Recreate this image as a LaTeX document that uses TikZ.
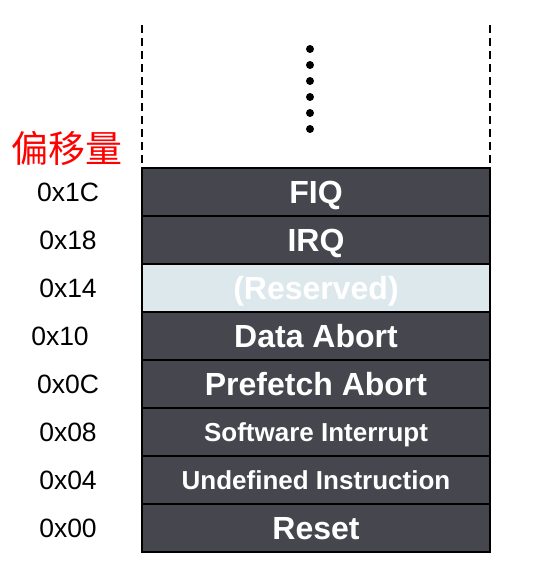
\documentclass[tikz,border=0pt]{standalone}
\usepackage{fontspec}
\setmainfont{Liberation Sans}
\newfontfamily\cjk{Noto Sans CJK SC}
\definecolor{rowdark}{HTML}{46464F}
\definecolor{rowlight}{HTML}{DDE8EC}
\begin{document}
\begin{tikzpicture}[x=1pt,y=-1pt,
  rowbox/.style={draw=black, line width=2pt, fill=rowdark, minimum width=348pt, minimum height=48pt,
    inner sep=0pt, text=white, font=\bfseries\fontsize{32}{34}\selectfont, text height=22.9pt, text depth=0pt},
  smallrow/.style={font=\bfseries\fontsize{26}{28}\selectfont, text height=18.6pt},
  offlabel/.style={inner sep=0pt, font=\fontsize{26.5}{28}\selectfont, text height=19pt, text depth=0pt},
  dashline/.style={dashed, dash pattern=on 8pt off 5pt, line width=2pt},
  dotmark/.style={fill=black}]
\useasboundingbox (0,0) rectangle (546,574);
% dashed side lines
\coordinate (dl) at (142,25);
\coordinate (dr) at (490,25);
\coordinate (tl) at (142,168);
\coordinate (tr) at (490,168);
\draw[dashline] (dl) -- (tl);
\draw[dashline] (dr) -- (tr);
% dots
\foreach \i in {0,...,5} {\fill[dotmark] (310,{49+16*\i}) circle (4pt);}
% rows
\node[rowbox] (r7) at (316,192) {FIQ};
\node[rowbox] (r6) at (316,240) {IRQ};
\node[rowbox, fill=rowlight] (r5) at (316,288) {(Reserved)};
\node[rowbox] (r4) at (316,336) {Data Abort};
\node[rowbox] (r3) at (316,384) {Prefetch Abort};
\node[rowbox, smallrow] (r2) at (316,432) {Software Interrupt};
\node[rowbox, smallrow] (r1) at (316,480) {Undefined Instruction};
\node[rowbox] (r0) at (316,528) {Reset};
% offset labels
\node[inner sep=0pt, text=red, font=\cjk\fontsize{37}{39}\selectfont] (title) at (67.5,148) {偏移量};
\node[offlabel] (l7) at (68,192) {0x1C};
\node[offlabel] (l6) at (68,240) {0x18};
\node[offlabel] (l5) at (68,288) {0x14};
\node[offlabel] (l4) at (60,336) {0x10};
\node[offlabel] (l3) at (68,384) {0x0C};
\node[offlabel] (l2) at (68,432) {0x08};
\node[offlabel] (l1) at (68,480) {0x04};
\node[offlabel] (l0) at (68,528) {0x00};
\end{tikzpicture}
\end{document}
